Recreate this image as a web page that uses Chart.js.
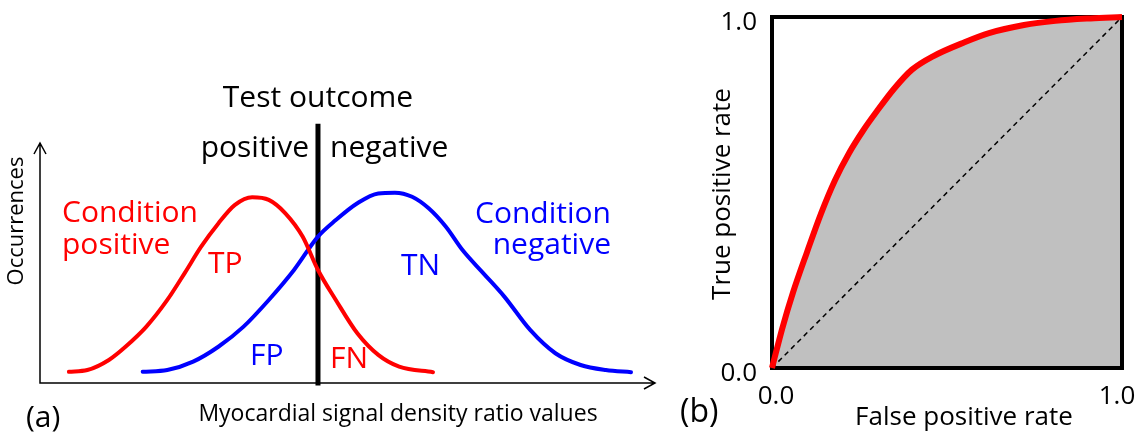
<!DOCTYPE html>
<html>
<head>
<meta charset="utf-8">
<script src="https://cdn.jsdelivr.net/npm/chart.js@4.4.1/dist/chart.umd.min.js"></script>
<style>
  html, body { margin: 0; padding: 0; background: #fff; }
  #wrap { position: relative; width: 1139px; height: 439px; }
  #distChart { position: absolute; left: 0; top: 0; }
  #rocChart { position: absolute; left: 680px; top: 0; }
</style>
</head>
<body>
<div id="wrap">
  <canvas id="distChart" width="680" height="439"></canvas>
  <canvas id="rocChart" width="459" height="439"></canvas>
</div>
<script>
// panel (a): occurrence curves (arbitrary units, x 0-100, y 0-100)
const positiveX = [4.7, 7.7, 11.2, 13.9, 17.3, 20.7, 23.5, 26.2, 29.0, 31.7, 34.5, 37.2, 39.9, 42.7, 45.2, 48.1, 51.6, 55.0, 58.4, 63.9];
const positiveY = [4.7, 5.4, 9.6, 15.1, 23.5, 34.6, 45.7, 56.8, 66.5, 74.2, 77.4, 76.3, 70.7, 61.0, 47.1, 34.6, 20.7, 11.7, 6.8, 4.5];
const negativeX = [16.7, 20.7, 24.9, 29.0, 33.1, 37.2, 41.3, 45.2, 48.1, 51.6, 55.0, 57.7, 60.5, 63.2, 66.0, 68.7, 72.1, 75.5, 79.7, 83.8, 87.9, 92.0, 96.1];
const negativeY = [4.7, 5.4, 8.9, 15.1, 23.5, 34.6, 47.1, 61.0, 67.9, 74.9, 79.0, 79.3, 77.6, 72.8, 65.1, 55.4, 45.7, 36.0, 22.1, 12.4, 7.5, 5.4, 4.5];
const thresholdX = 45.2;
const thresholdRange = [-1, 108];

// panel (b): ROC curve
const fprValues = [0, 0.03, 0.06, 0.10, 0.14, 0.18, 0.22, 0.26, 0.30, 0.35, 0.40, 0.46, 0.55, 0.62, 0.72, 0.81, 0.91, 1];
const tprValues = [0, 0.115, 0.215, 0.33, 0.44, 0.535, 0.612, 0.676, 0.732, 0.797, 0.85, 0.888, 0.928, 0.954, 0.977, 0.989, 0.996, 1];
const rocTicks = [0, 1];
const rocTickLabels = ['0.0', '1.0'];

const FONT = '"Open Sans", sans-serif';
const toPoints = (xs, ys) => xs.map((x, i) => ({ x: x, y: ys[i] }));

function drawText(ctx, t) {
  ctx.save();
  ctx.font = t.size + 'px ' + FONT;
  ctx.fillStyle = t.color || '#000';
  ctx.textAlign = t.align || 'center';
  ctx.textBaseline = t.baseline || 'alphabetic';
  ctx.translate(t.x, t.y);
  if (t.rotate) ctx.rotate(t.rotate);
  ctx.fillText(t.text, 0, 0);
  ctx.restore();
}

// text of panel (a), canvas pixels
const distLabels = [
  { text: 'Test outcome', x: 318, y: 107, size: 30 },
  { text: 'positive', x: 309, y: 157, size: 30, align: 'right' },
  { text: 'negative', x: 330, y: 157, size: 30, align: 'left' },
  { text: 'Condition', x: 62, y: 222, size: 30, align: 'left', color: '#ff0000' },
  { text: 'positive', x: 62, y: 254, size: 30, align: 'left', color: '#ff0000' },
  { text: 'TP', x: 208, y: 273, size: 30, align: 'left', color: '#ff0000' },
  { text: 'FN', x: 330, y: 368, size: 30, align: 'left', color: '#ff0000' },
  { text: 'FP', x: 250, y: 365, size: 30, align: 'left', color: '#0000ff' },
  { text: 'TN', x: 401, y: 275, size: 30, align: 'left', color: '#0000ff' },
  { text: 'Condition', x: 611, y: 223, size: 30, align: 'right', color: '#0000ff' },
  { text: 'negative', x: 611, y: 254, size: 30, align: 'right', color: '#0000ff' },
  { text: 'Occurrences', x: 17, y: 221, size: 22, baseline: 'middle', rotate: -Math.PI / 2 },
  { text: 'Myocardial signal density ratio values', x: 398, y: 421, size: 23 },
  { text: '(a)', x: 26, y: 418, size: 30, align: 'left', baseline: 'middle' }
];

const distDecor = {
  id: 'distDecor',
  beforeDatasetsDraw(chart) {
    const { ctx, scales: { x, y } } = chart;
    const x0 = x.getPixelForValue(0), y0 = y.getPixelForValue(0);
    const xEnd = x.getPixelForValue(100), yEnd = y.getPixelForValue(100);
    ctx.save();
    ctx.strokeStyle = '#000';
    ctx.lineWidth = 1.5;
    ctx.beginPath();
    ctx.moveTo(x0, yEnd);
    ctx.lineTo(x0, y0);
    ctx.lineTo(xEnd, y0);
    // open arrow heads
    ctx.moveTo(x0 - 6, yEnd + 11); ctx.lineTo(x0, yEnd); ctx.lineTo(x0 + 6, yEnd + 11);
    ctx.moveTo(xEnd - 11, y0 - 6); ctx.lineTo(xEnd, y0); ctx.lineTo(xEnd - 11, y0 + 6);
    ctx.stroke();
    ctx.restore();
  },
  afterDatasetsDraw(chart) {
    distLabels.forEach(t => drawText(chart.ctx, t));
  }
};

new Chart(document.getElementById('distChart'), {
  type: 'scatter',
  data: {
    datasets: [
      {
        label: 'Condition positive',
        data: toPoints(positiveX, positiveY),
        showLine: true, borderColor: '#ff0000', borderWidth: 4,
        pointRadius: 0, cubicInterpolationMode: 'monotone', borderCapStyle: 'round'
      },
      {
        label: 'Condition negative',
        data: toPoints(negativeX, negativeY),
        showLine: true, borderColor: '#0000ff', borderWidth: 4,
        pointRadius: 0, cubicInterpolationMode: 'monotone', borderCapStyle: 'round'
      },
      {
        label: 'Threshold',
        data: thresholdRange.map(v => ({ x: thresholdX, y: v })),
        showLine: true, borderColor: '#000', borderWidth: 5,
        pointRadius: 0, clip: false
      }
    ]
  },
  options: {
    responsive: false,
    animation: false,
    layout: { padding: { left: 40, right: 25, top: 119, bottom: 56 } },
    scales: {
      x: { type: 'linear', min: 0, max: 100, display: false },
      y: { type: 'linear', min: 0, max: 110, display: false }
    },
    plugins: { legend: { display: false }, tooltip: { enabled: false } }
  },
  plugins: [distDecor]
});

// panel (b)
const rocDecor = {
  id: 'rocDecor',
  beforeDatasetsDraw(chart) {
    const { ctx, chartArea: a } = chart;
    ctx.save();
    ctx.strokeStyle = '#000';
    ctx.lineWidth = 4;
    ctx.strokeRect(a.left, a.top, a.right - a.left, a.bottom - a.top);
    ctx.restore();
  },
  afterDatasetsDraw(chart) {
    const { ctx, scales: { x, y } } = chart;
    rocTicks.forEach((v, i) => {
      drawText(ctx, { text: rocTickLabels[i], x: x.left - 15, y: y.getPixelForValue(v) + 6, size: 26, align: 'right', baseline: 'middle' });
      drawText(ctx, { text: rocTickLabels[i], x: x.getPixelForValue(v) + (i === 0 ? 4 : -5), y: 397, size: 26, baseline: 'middle' });
    });
    drawText(ctx, { text: 'True positive rate', x: 43, y: 194, size: 26, baseline: 'middle', rotate: -Math.PI / 2 });
    drawText(ctx, { text: 'False positive rate', x: 284, y: 418, size: 26, baseline: 'middle' });
    drawText(ctx, { text: '(b)', x: 0, y: 413, size: 32, align: 'left', baseline: 'middle' });
  }
};

new Chart(document.getElementById('rocChart'), {
  type: 'scatter',
  data: {
    datasets: [
      {
        label: 'ROC',
        data: toPoints(fprValues, tprValues),
        showLine: true, borderColor: '#ff0000', borderWidth: 6,
        backgroundColor: '#c0c0c0', fill: 'origin',
        pointRadius: 0, cubicInterpolationMode: 'monotone', clip: false, order: 0
      },
      {
        label: 'Chance',
        data: toPoints(rocTicks, rocTicks),
        showLine: true, borderColor: '#000', borderWidth: 1.5, borderDash: [5, 4],
        pointRadius: 0, order: 1
      }
    ]
  },
  options: {
    responsive: false,
    animation: false,
    layout: { padding: { left: 92, right: 17, top: 17, bottom: 71 } },
    scales: {
      x: { type: 'linear', min: 0, max: 1, display: false },
      y: { type: 'linear', min: 0, max: 1, display: false }
    },
    plugins: {
      legend: { display: false },
      tooltip: { enabled: false },
      filler: { drawTime: 'beforeDatasetsDraw' }
    }
  },
  plugins: [rocDecor]
});
</script>
</body>
</html>
